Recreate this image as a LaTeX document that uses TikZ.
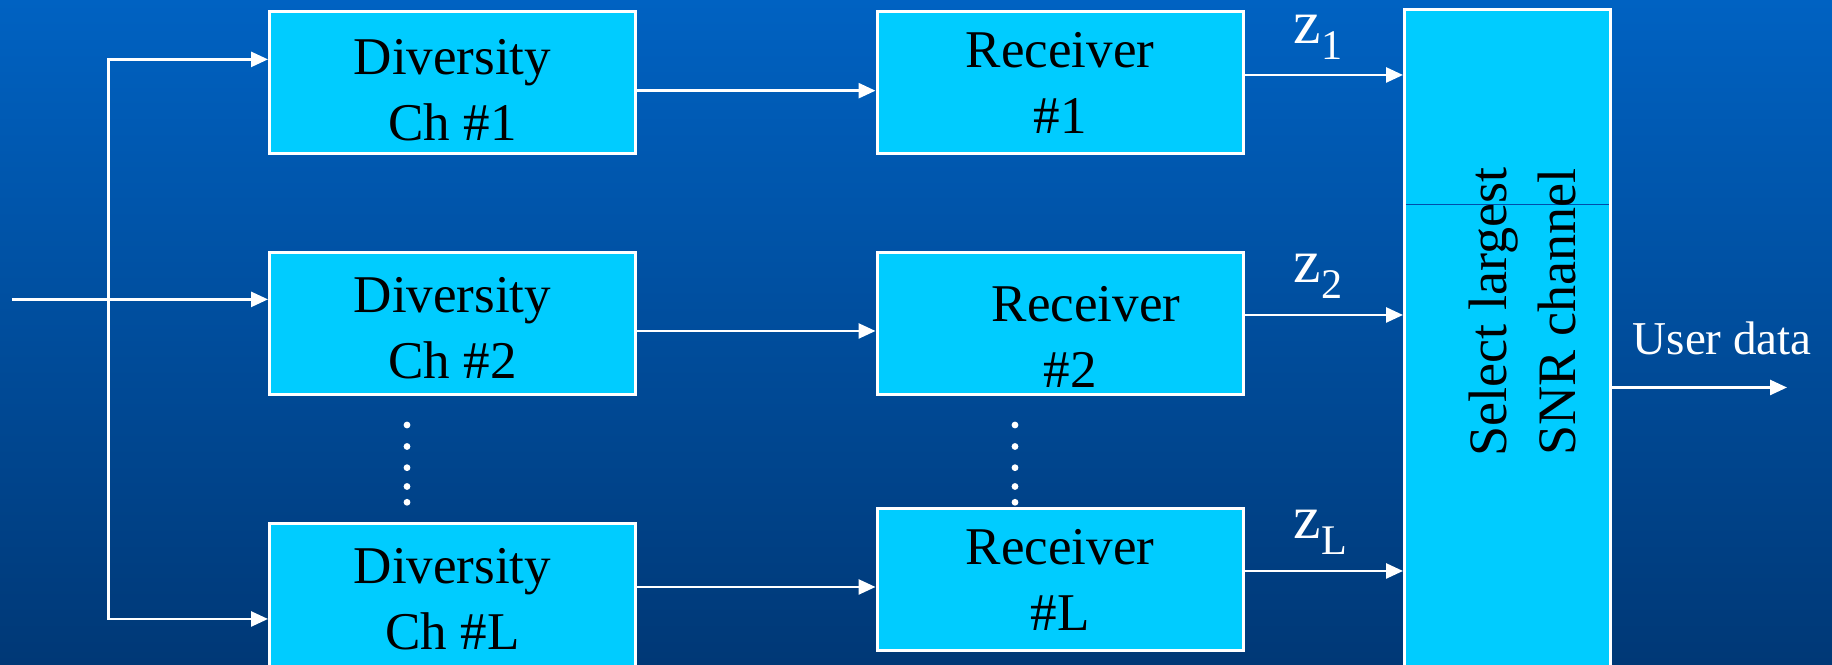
\documentclass[tikz,border=0pt]{standalone}
\usepackage{fontspec}
\setmainfont{Liberation Serif}
\usetikzlibrary{arrows.meta}
\definecolor{bgtop}{RGB}{0,98,194}
\definecolor{bgbot}{RGB}{0,56,118}
\definecolor{bgline}{RGB}{0,78,170}
\definecolor{boxcyan}{RGB}{0,204,255}
\newcommand{\boxfont}{\fontsize{15.1}{18.8}\selectfont}
\newcommand{\zsub}[1]{z\raisebox{-4.5pt}{\fontsize{12}{14}\selectfont #1}}
\tikzstyle{blocktext} = [align=center, inner sep=0pt, font=\boxfont]
\tikzstyle{block} = [rectangle, draw=white, fill=boxcyan, line width=0.85pt, minimum width=3.66cm, minimum height=1.42cm, blocktext]
\tikzstyle{selbox} = [rectangle, draw=white, fill=boxcyan, line width=0.85pt, minimum width=2.06cm, minimum height=6.70cm]
\tikzstyle{seltext} = [rotate=90, align=center, inner sep=0pt, font={\fontsize{15.4}{19.9}\selectfont}]
\tikzstyle{sig} = [->, >={Triangle[length=0.17cm, width=0.15cm]}, draw=white, line width=0.75pt]
\tikzstyle{ztag} = [white, anchor=base west, inner sep=0pt, font={\fontsize{17.6}{20}\selectfont}]

\begin{document}
\begin{tikzpicture}
  \useasboundingbox (0,0) rectangle (18.32,6.65);
  \clip (0,0) rectangle (18.32,6.65);
  \shade[top color=bgtop, bottom color=bgbot] (0,0) rectangle (18.32,6.65);

  % Diversity channels
  \node[block] (div1) at (4.525,5.82) {\rule{0pt}{0.50cm}Diversity\\Ch \#1};
  \node[block] (div2) at (4.525,3.415) {\rule{0pt}{0.44cm}Diversity\\Ch \#2};
  \node[block, minimum height=1.50cm] (divL) at (4.525,0.66) {Diversity\\Ch \#L};

  % Receivers
  \node[block] (rx1) at (10.60,5.82) {Receiver\\\#1};
  \node[block] (rx2) at (10.60,3.415) {};
  \node[blocktext] (rx2txt) at ([xshift=0.10cm,yshift=-0.13cm]rx2.center) {\hspace*{0.32cm}Receiver\\\#2};
  \node[block] (rxL) at (10.60,0.85) {Receiver\\\#L};

  % Selector
  \node[selbox] (sel) at (15.075,3.20) {};
  \draw[bgline, line width=0.3pt] (14.06,4.605) -- (16.09,4.605);
  \node[seltext] (seltxt) at (15.225,3.53) {Select largest\\SNR channel};

  % Dots between branches
  \fill[white] (4.07,2.40) circle (0.034) (4.07,2.185) circle (0.034) (4.07,1.973) circle (0.034)
    (4.07,1.785) circle (0.034) (4.07,1.627) circle (0.034);
  \fill[white] (10.15,2.40) circle (0.034) (10.15,2.185) circle (0.034) (10.15,1.973) circle (0.034)
    (10.15,1.785) circle (0.034) (10.15,1.627) circle (0.034);

  % Input and branching
  \coordinate (in) at (0.12,3.656);
  \coordinate (brT) at (1.085,6.056);
  \coordinate (brB) at (1.085,0.46);
  \draw[sig] (in) -- (in -| div2.west);
  \draw[sig, <->] (brB -| divL.west) -- (brB) -- (brT) -- (brT -| div1.west);

  % Channel to receiver
  \draw[sig] ([yshift=-0.077cm]div1.east) -- ([yshift=-0.077cm]rx1.west);
  \draw[sig] ([yshift=-0.075cm]div2.east) -- ([yshift=-0.075cm]rx2.west);
  \coordinate (dLo) at ([yshift=0.12cm]divL.east);
  \draw[sig] (dLo) -- (dLo -| rxL.west);

  % Receiver to selector
  \coordinate (r1o) at ([yshift=0.08cm]rx1.east);
  \coordinate (r2o) at ([yshift=0.085cm]rx2.east);
  \coordinate (rLo) at ([yshift=0.09cm]rxL.east);
  \draw[sig] (r1o) -- (r1o -| sel.west);
  \draw[sig] (r2o) -- (r2o -| sel.west);
  \draw[sig] (rLo) -- (rLo -| sel.west);
  \node[ztag] (z1) at (12.93,6.21) {\zsub{1}};
  \node[ztag] (z2) at (12.93,3.82) {\zsub{2}};
  \node[ztag] (zL) at (12.93,1.26) {\zsub{L}};

  % Output
  \coordinate (out) at (17.87,2.775);
  \draw[sig] (sel.east |- out) -- (out);
  \node[ztag, font={\fontsize{13.4}{16}\selectfont}] (user) at (16.32,3.10) {User data};
\end{tikzpicture}
\end{document}
